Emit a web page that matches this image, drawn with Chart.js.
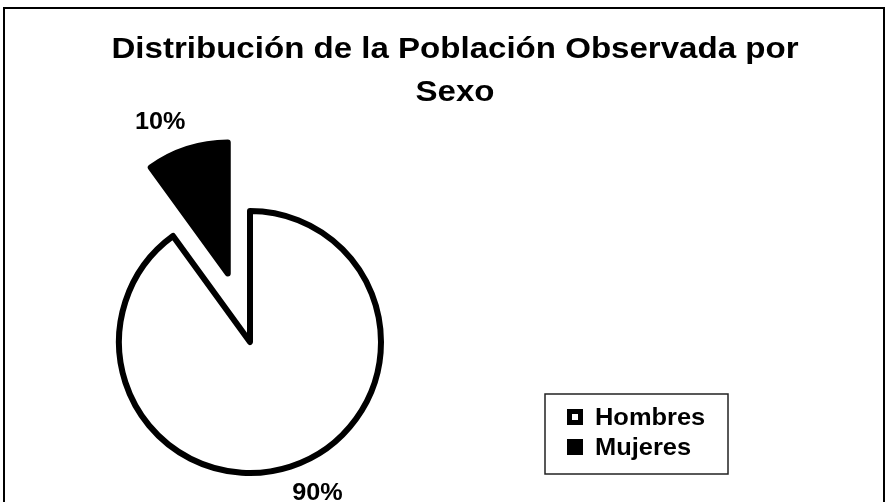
<!DOCTYPE html>
<html>
<head>
<meta charset="utf-8">
<script src="https://cdn.jsdelivr.net/npm/chart.js@4"></script>
<style>
  body { margin: 0; background: #fff; }
</style>
</head>
<body>
<canvas id="myChart" width="888" height="502"></canvas>
<script>
labels = ['Hombres', 'Mujeres']
values = [90, 10]
pctLabels = ['90%', '10%']
titleLines = ['Distribución de la Población Observada por', 'Sexo']

fontFam = "'Liberation Sans', Arial, sans-serif"
explodeDist = [0, 72]

// the original text is a bit wider than Liberation Sans, stretch it a little
function wideText(ctx, txt, x, y, sx) {
  ctx.save()
  ctx.translate(x, y)
  ctx.scale(sx, 1)
  ctx.fillText(txt, 0, 0)
  ctx.restore()
}

// draws each slice itself so the Mujeres slice can be pulled out without resizing it
var explodePlugin = {
  id: 'explode',
  beforeDatasetDraw: function(chart, args) {
    var ctx = chart.ctx
    args.meta.data.forEach(function(arc, i) {
      var mid = (arc.startAngle + arc.endAngle) / 2
      ctx.save()
      ctx.translate(Math.cos(mid) * explodeDist[i], Math.sin(mid) * explodeDist[i])
      arc.draw(ctx)
      ctx.restore()
    })
    return false
  }
}

var decorPlugin = {
  id: 'decor',
  beforeDraw: function(chart) {
    var ctx = chart.ctx
    ctx.save()
    ctx.fillStyle = '#fff'
    ctx.fillRect(0, 0, chart.width, chart.height)
    ctx.strokeStyle = '#000'
    ctx.lineWidth = 2
    ctx.strokeRect(4, 8, 880, 520)
    ctx.restore()
  },
  afterDraw: function(chart) {
    var ctx = chart.ctx
    var meta = chart.getDatasetMeta(0)
    ctx.save()
    ctx.fillStyle = '#000'
    ctx.textAlign = 'center'
    ctx.textBaseline = 'alphabetic'
    ctx.font = 'bold 29px ' + fontFam
    wideText(ctx, titleLines[0], 455, 58, 1.14)
    wideText(ctx, titleLines[1], 455, 101, 1.14)

    // percentage labels outside each slice
    ctx.font = 'bold 24px ' + fontFam
    ctx.textBaseline = 'middle'
    meta.data.forEach(function(arc, i) {
      var mid = (arc.startAngle + arc.endAngle) / 2
      var cx = arc.x + Math.cos(mid) * explodeDist[i]
      var cy = arc.y + Math.sin(mid) * explodeDist[i]
      var a = mid - 6 * Math.PI / 180
      wideText(ctx, pctLabels[i], cx + Math.cos(a) * 166, cy + Math.sin(a) * 166, 1.05)
    })

    // legend box
    ctx.lineWidth = 1.5
    ctx.strokeStyle = '#222'
    ctx.strokeRect(545, 394, 183, 80)
    ctx.textAlign = 'left'
    ctx.textBaseline = 'alphabetic'
    labels.forEach(function(lab, i) {
      var y = 409 + i * 30
      ctx.fillStyle = '#000'
      ctx.fillRect(567, y, 16, 16)
      if (i == 0) {
        ctx.fillStyle = '#fff'
        ctx.fillRect(572, y + 5, 6, 6)
      }
      ctx.fillStyle = '#000'
      wideText(ctx, lab, 595, y + 16, 1.06)
    })
    ctx.restore()
  }
}

var ctx = document.getElementById('myChart').getContext('2d')
chartOne = new Chart(ctx, {
  type: 'pie',
  data: {
    labels: labels,
    datasets: [{
      data: values,
      backgroundColor: ['#ffffff', '#000000'],
      borderColor: ['#000000', '#000000'],
      borderWidth: 6,
      borderJoinStyle: 'round',
      radius: 131
    }]
  },
  options: {
    responsive: false,
    animation: false,
    layout: { padding: { left: 0, right: 388, top: 182, bottom: 0 } },
    plugins: {
      legend: { display: false },
      title: { display: false },
      tooltip: { enabled: false }
    },
    events: []
  },
  plugins: [explodePlugin, decorPlugin]
})
</script>
</body>
</html>
